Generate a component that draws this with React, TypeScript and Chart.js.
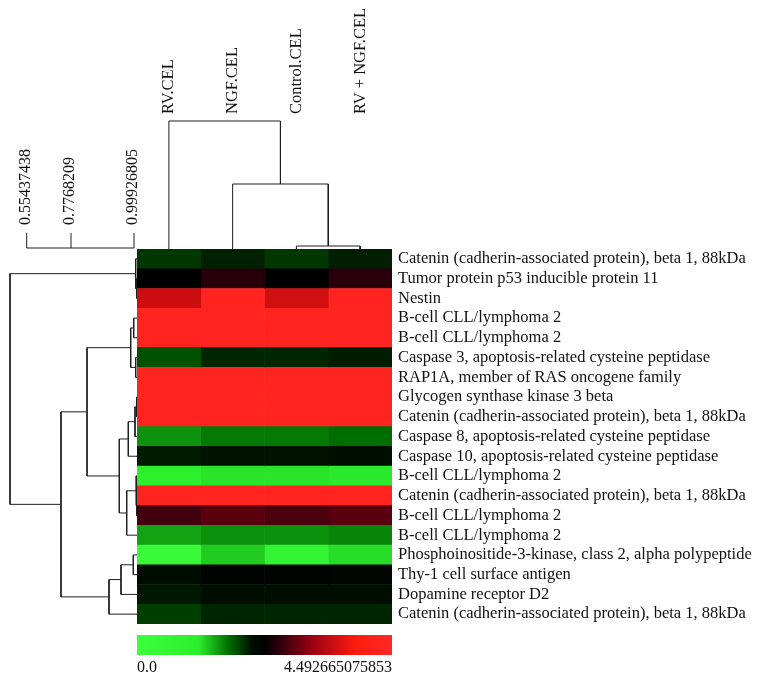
import React, { useEffect, useRef } from "react";
import { Chart, registerables } from "chart.js";

Chart.register(...registerables);

const FONT = "'Liberation Serif', 'Times New Roman', serif";
const TEXT_COLOR = "#111111";
const LINE_COLOR = "#1e1e1e";

// ---------- data ----------
const columnLabels = ["RV.CEL", "NGF.CEL", "Control.CEL", "RV + NGF.CEL"];

const rowLabels = [
  "Catenin (cadherin-associated protein), beta 1, 88kDa",
  "Tumor protein p53 inducible protein 11",
  "Nestin",
  "B-cell CLL/lymphoma 2",
  "B-cell CLL/lymphoma 2",
  "Caspase 3, apoptosis-related cysteine peptidase",
  "RAP1A, member of RAS oncogene family",
  "Glycogen synthase kinase 3 beta",
  "Catenin (cadherin-associated protein), beta 1, 88kDa",
  "Caspase 8, apoptosis-related cysteine peptidase",
  "Caspase 10, apoptosis-related cysteine peptidase",
  "B-cell CLL/lymphoma 2",
  "Catenin (cadherin-associated protein), beta 1, 88kDa",
  "B-cell CLL/lymphoma 2",
  "B-cell CLL/lymphoma 2",
  "Phosphoinositide-3-kinase, class 2, alpha polypeptide",
  "Thy-1 cell surface antigen",
  "Dopamine receptor D2",
  "Catenin (cadherin-associated protein), beta 1, 88kDa",
];

const rvValues = [1.85, 2.24, 3.47, 4.3, 4.3, 1.74, 4.3, 4.3, 4.3, 1.46, 1.97, 1.0, 4.3, 2.63, 1.4, 0.3, 2.05, 1.98, 1.82];
const ngfValues = [1.94, 2.48, 4.3, 4.3, 4.3, 1.92, 4.3, 4.3, 4.3, 1.57, 2.0, 1.12, 4.3, 2.75, 1.47, 1.22, 2.2, 2.02, 1.92];
const controlValues = [1.85, 2.24, 3.5, 4.3, 4.3, 1.92, 4.3, 4.3, 4.3, 1.57, 2.0, 1.12, 4.3, 2.67, 1.47, 0.7, 2.18, 2.02, 1.92];
const rvNgfValues = [1.95, 2.5, 4.3, 4.3, 4.3, 1.96, 4.3, 4.3, 4.3, 1.62, 2.02, 1.1, 4.3, 2.75, 1.52, 1.15, 2.15, 2.02, 1.92];

const colorMin = 0;
const colorMax = 4.492665075853;
const colorbarLabels = ["0.0", "4.492665075853"];
const colorStopPositions = [0, 0.24, 0.36, 0.45, 0.5, 0.56, 0.68, 0.86, 1];
const colorStopColors = [
  [60, 255, 60],
  [45, 238, 45],
  [0, 110, 0],
  [0, 14, 0],
  [0, 0, 0],
  [45, 0, 12],
  [150, 0, 20],
  [255, 28, 14],
  [255, 40, 40],
];

// row dendrogram linkage (leaves 0..18, merged clusters numbered from 19)
const rowLinkLeft = [1, 0, 3, 5, 21, 7, 24, 25, 12, 11, 28, 26, 23, 15, 32, 33, 31, 20];
const rowLinkRight = [2, 19, 4, 6, 22, 8, 9, 10, 13, 27, 14, 29, 30, 16, 17, 18, 34, 35];
const rowLinkHeight = [0.4, 1.3, 3.3, 1.3, 6.3, 0.4, 2.0, 8.7, 0.4, 1.0, 10.3, 17.7, 50, 3.7, 16, 28, 76, 127];
const rowHeightMax = 137;

// column dendrogram linkage (leaves 0..3, merged clusters from 4)
const colLinkLeft = [2, 1, 0];
const colLinkRight = [3, 4, 5];
const colLinkHeight = [3, 65, 128];
const colHeightMax = 130;

// scale bar
const scaleTickPositions = [110.3, 66, 3];
const scaleTickLabels = ["0.55437438", "0.7768209", "0.99926805"];

// ---------- helpers ----------
function valueToColor(v: number): string {
  const f = Math.min(1, Math.max(0, (v - colorMin) / (colorMax - colorMin)));
  for (let i = 0; i < colorStopPositions.length - 1; i++) {
    const a = colorStopPositions[i];
    const b = colorStopPositions[i + 1];
    if (f >= a && f <= b) {
      const t = b === a ? 0 : (f - a) / (b - a);
      const ca = colorStopColors[i];
      const cb = colorStopColors[i + 1];
      const c = ca.map((x, k) => Math.round(x + (cb[k] - x) * t));
      return `rgb(${c[0]},${c[1]},${c[2]})`;
    }
  }
  const c = colorStopColors[colorStopColors.length - 1];
  return `rgb(${c[0]},${c[1]},${c[2]})`;
}

function dendroSegments(nLeaves: number, left: number[], right: number[], height: number[]) {
  const pos: number[] = [];
  const h: number[] = [];
  for (let i = 0; i < nLeaves; i++) {
    pos.push(i + 0.5);
    h.push(0);
  }
  const links: { a: number; b: number; ha: number; hb: number; h: number }[] = [];
  for (let k = 0; k < left.length; k++) {
    const l = left[k];
    const r = right[k];
    links.push({ a: pos[l], b: pos[r], ha: h[l], hb: h[r], h: height[k] });
    pos.push((pos[l] + pos[r]) / 2);
    h.push(height[k]);
  }
  return links;
}

const lineDataset = (points: { x: number; y: number }[]) => ({
  data: points,
  showLine: true,
  borderColor: LINE_COLOR,
  borderWidth: 1,
  pointRadius: 0,
  fill: false,
  clip: false as any,
  tension: 0,
});

const noPad = (s: any) => {
  s.paddingLeft = 0;
  s.paddingRight = 0;
  s.paddingTop = 0;
  s.paddingBottom = 0;
};

const baseOptions = {
  responsive: false,
  animation: false as const,
  events: [] as any[],
  plugins: { legend: { display: false }, tooltip: { enabled: false } },
};

export default function App() {
  const heatRef = useRef<HTMLCanvasElement>(null);
  const rowRef = useRef<HTMLCanvasElement>(null);
  const colRef = useRef<HTMLCanvasElement>(null);
  const scaleRef = useRef<HTMLCanvasElement>(null);
  const barRef = useRef<HTMLCanvasElement>(null);

  useEffect(() => {
    const charts: Chart[] = [];
    const columnValues = [rvValues, ngfValues, controlValues, rvNgfValues];

    // heatmap
    charts.push(
      new Chart(heatRef.current!, {
        type: "bar",
        data: {
          labels: rowLabels,
          datasets: columnValues.map((vals, c) => ({
            label: columnLabels[c],
            data: vals.map(() => [c, c + 1]),
            backgroundColor: vals.map((v) => valueToColor(v)),
            borderWidth: 0,
            barPercentage: 1,
            categoryPercentage: 1,
            grouped: false,
          })) as any,
        },
        options: {
          ...baseOptions,
          indexAxis: "y",
          layout: { padding: { top: 20, bottom: 20, left: 0, right: 0 } },
          scales: {
            x: { type: "linear", min: 0, max: columnLabels.length, display: false },
            y: {
              type: "category",
              position: "right",
              grid: { display: false, drawTicks: false },
              border: { display: false },
              ticks: {
                color: TEXT_COLOR,
                font: { family: FONT, size: 16.5 },
                padding: 6,
                autoSkip: false,
              },
              afterFit: (s: any) => {
                s.width = 370;
                noPad(s);
              },
            },
          },
        } as any,
      })
    );

    // row dendrogram
    const rowLinks = dendroSegments(rowLabels.length, rowLinkLeft, rowLinkRight, rowLinkHeight);
    charts.push(
      new Chart(rowRef.current!, {
        type: "scatter",
        data: {
          datasets: rowLinks.map((l) =>
            lineDataset([
              { x: l.ha, y: l.a },
              { x: l.h, y: l.a },
              { x: l.h, y: l.b },
              { x: l.hb, y: l.b },
            ])
          ) as any,
        },
        options: {
          ...baseOptions,
          layout: { padding: 0 },
          scales: {
            x: { type: "linear", reverse: true, min: 0, max: rowHeightMax, display: false },
            y: { type: "linear", reverse: true, min: 0, max: rowLabels.length, display: false },
          },
        } as any,
      })
    );

    // column dendrogram + column labels
    const colLinks = dendroSegments(columnLabels.length, colLinkLeft, colLinkRight, colLinkHeight);
    charts.push(
      new Chart(colRef.current!, {
        type: "scatter",
        data: {
          datasets: colLinks.map((l) =>
            lineDataset([
              { x: l.a, y: l.ha },
              { x: l.a, y: l.h },
              { x: l.b, y: l.h },
              { x: l.b, y: l.hb },
            ])
          ) as any,
        },
        options: {
          ...baseOptions,
          layout: { padding: 0 },
          scales: {
            x: { type: "linear", min: 0, max: columnLabels.length, display: false },
            y: { type: "linear", min: 0, max: colHeightMax, display: false },
            colTop: {
              type: "category",
              axis: "x",
              labels: columnLabels,
              position: "top",
              offset: true,
              grid: { display: false, drawTicks: false },
              border: { display: false },
              ticks: {
                color: TEXT_COLOR,
                font: { family: FONT, size: 16.5 },
                minRotation: 90,
                maxRotation: 90,
                padding: 5,
                labelOffset: 20,
                autoSkip: false,
              },
              afterFit: (s: any) => {
                s.height = 119;
                noPad(s);
              },
            },
          },
        } as any,
      })
    );

    // scale bar
    const scaleSets: any[] = [
      lineDataset([
        { x: scaleTickPositions[0], y: 0 },
        { x: scaleTickPositions[scaleTickPositions.length - 1], y: 0 },
      ]),
      ...scaleTickPositions.map((p) =>
        lineDataset([
          { x: p, y: 0 },
          { x: p, y: 1 },
        ])
      ),
    ];
    charts.push(
      new Chart(scaleRef.current!, {
        type: "scatter",
        data: { datasets: scaleSets },
        options: {
          ...baseOptions,
          layout: { padding: { bottom: 1 } },
          scales: {
            x: { type: "linear", reverse: true, min: 0, max: rowHeightMax, display: false },
            y: { type: "linear", min: 0, max: 1, display: false },
            xTop: {
              type: "linear",
              axis: "x",
              position: "top",
              reverse: true,
              min: 0,
              max: rowHeightMax,
              grid: { display: false, drawTicks: false },
              border: { display: false },
              afterBuildTicks: (s: any) => {
                s.ticks = scaleTickPositions.map((v) => ({ value: v }));
              },
              ticks: {
                color: TEXT_COLOR,
                font: { family: FONT, size: 16 },
                minRotation: 90,
                maxRotation: 90,
                padding: 8,
                labelOffset: 18,
                autoSkip: false,
                callback: (_v: any, i: number) => scaleTickLabels[i],
              },
              afterFit: (s: any) => {
                s.height = 233;
                noPad(s);
              },
            },
          },
        } as any,
      })
    );

    // colour bar
    charts.push(
      new Chart(barRef.current!, {
        type: "bar",
        data: {
          labels: ["scale"],
          datasets: [
            {
              data: [[colorMin, colorMax]],
              borderWidth: 0,
              barPercentage: 1,
              categoryPercentage: 1,
              backgroundColor: (ctx: any) => {
                const chart = ctx.chart;
                const xs = chart.scales.x;
                if (!chart.chartArea || !xs) return "#000";
                const g = chart.ctx.createLinearGradient(
                  xs.getPixelForValue(colorMin),
                  0,
                  xs.getPixelForValue(colorMax),
                  0
                );
                colorStopPositions.forEach((p, i) => {
                  const c = colorStopColors[i];
                  g.addColorStop(p, `rgb(${c[0]},${c[1]},${c[2]})`);
                });
                return g;
              },
            },
          ] as any,
        },
        options: {
          ...baseOptions,
          indexAxis: "y",
          layout: { padding: 0 },
          scales: {
            y: { type: "category", display: false },
            x: {
              type: "linear",
              min: colorMin,
              max: colorMax,
              position: "bottom",
              grid: { display: false, drawTicks: false },
              border: { display: false },
              afterBuildTicks: (s: any) => {
                s.ticks = [{ value: colorMin }, { value: colorMax }];
              },
              ticks: {
                color: TEXT_COLOR,
                font: { family: FONT, size: 16 },
                padding: 3,
                align: "inner",
                autoSkip: false,
                maxRotation: 0,
                callback: (_v: any, i: number) => colorbarLabels[i],
              },
              afterFit: (s: any) => {
                s.height = 28;
                noPad(s);
              },
            },
          },
        } as any,
      })
    );

    return () => charts.forEach((c) => c.destroy());
  }, []);

  const abs = (left: number, top: number, width: number, height: number): React.CSSProperties => ({
    position: "absolute",
    left,
    top,
    width,
    height,
    display: "block",
  });

  return (
    <div style={{ position: "absolute", left: 0, top: 0, width: 763, height: 683, background: "#ffffff", overflow: "hidden" }}>
      <canvas ref={scaleRef} width={137} height={249} style={abs(0, 0, 137, 249)} />
      <canvas ref={colRef} width={255} height={249} style={abs(137, 0, 255, 249)} />
      <canvas ref={rowRef} width={137} height={375} style={abs(0, 249, 137, 375)} />
      <canvas ref={heatRef} width={625} height={415} style={abs(137, 229, 625, 415)} />
      <canvas ref={barRef} width={255} height={48} style={abs(137, 635, 255, 48)} />
    </div>
  );
}
